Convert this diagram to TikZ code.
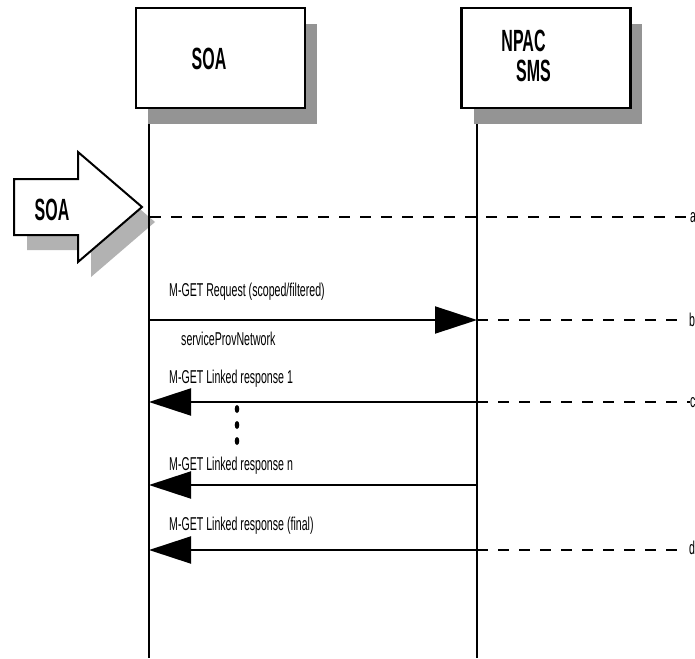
\documentclass[tikz,border=0pt]{standalone}
\usepackage{fontspec}
\setmainfont{Liberation Sans}[FakeStretch=0.57]
\newfontfamily\titlefont{Liberation Sans}[FakeStretch=0.52]
\usetikzlibrary{arrows.meta}
\begin{document}
\begin{tikzpicture}[x=1pt,y=-1pt,
  box/.style={draw, line width=2.5pt, fill=white, minimum width=169pt, minimum height=100pt, inner sep=0pt},
  boxshadow/.style={fill=black!42},
  arrshadow/.style={fill=black!30},
  bigarrow/.style={draw, line width=2pt, fill=white, line join=miter},
  title/.style={font=\titlefont\bfseries\fontsize{30.7}{30.7}\selectfont, inner sep=0pt, anchor=base},
  msgtext/.style={font=\fontsize{18.6}{18.6}\selectfont, inner sep=0pt, anchor=base west},
  endlabel/.style={font=\fontsize{18.6}{18.6}\selectfont, inner sep=0pt, anchor=base west},
  lifeline/.style={line width=2pt},
  msg/.style={line width=2pt, -{Triangle[length=42pt,width=27pt]}},
  ext/.style={line width=2.5pt, dash pattern=on 11pt off 10pt}
]
\useasboundingbox (0,0) rectangle (695,658);
\fill[white] (0,0) rectangle (695,658);

% header boxes with shadows
\fill[boxshadow] (148,24) rectangle (317,124);
\fill[boxshadow] (474,24) rectangle (642,124);
\node[box] (soa) at (220.5,58) {};
\node[box] (npac) at (546,58) {};
\node[title] (soaT) at (209,70) {SOA};
\node[title] (npacT1) at (523.5,52) {NPAC};
\node[title] (npacT2) at (533.5,82) {SMS};

% big SOA arrow
\fill[arrshadow] (27,194) -- (91,194) -- (91,167) -- (155,222) -- (91,277) -- (91,250) -- (27,250) -- cycle;
\draw[bigarrow] (14,179) -- (78,179) -- (78,152) -- (142,207) -- (78,262) -- (78,235) -- (14,235) -- cycle;
\node[title] (soaArrT) at (52,220) {SOA};

% lifelines
\coordinate (soaTop) at (149,124);
\coordinate (soaBot) at (149,658);
\coordinate (npacTop) at (477,124);
\coordinate (npacBot) at (477,658);
\draw[lifeline] (soaTop) -- (soaBot);
\draw[lifeline] (npacTop) -- (npacBot);

% end labels
\node[endlabel] (la) at (690,222) {a};
\node[endlabel] (lb) at (689,326) {b};
\node[endlabel] (lc) at (690,407) {c};
\node[endlabel] (ld) at (689,554) {d};

% a
\coordinate (sA) at (150,217);
\draw[ext] (sA) -- (sA -| la.west);

% request
\coordinate (s1) at (149,320);
\coordinate (n1) at (477,320);
\node[msgtext] (t1) at (169,296) {M-GET Request (scoped/filtered)};
\node[msgtext] (t1b) at (181,345) {serviceProvNetwork};
\draw[msg] (s1) -- (n1);
\draw[ext] (n1) -- ([xshift=-8pt]n1 -| lb.west);

% linked response 1
\coordinate (s2) at (149,402);
\coordinate (n2) at (477,402);
\node[msgtext] (t2) at (169,383) {M-GET Linked response 1};
\draw[msg] (n2) -- (s2);
\draw[ext] (n2) -- (n2 -| lc.west);

% dots
\fill (237,409) ellipse (2.3 and 4);
\fill (237,425) ellipse (2.3 and 4);
\fill (237,441) ellipse (2.3 and 4);

% linked response n
\coordinate (s3) at (149,485);
\coordinate (n3) at (477,485);
\node[msgtext] (t3) at (169,470) {M-GET Linked response n};
\draw[msg] (n3) -- (s3);

% linked response final
\coordinate (s4) at (149,550);
\coordinate (n4) at (477,550);
\node[msgtext] (t4) at (169,530) {M-GET Linked response (final)};
\draw[msg] (n4) -- (s4);
\draw[ext] (n4) -- ([xshift=-8pt]n4 -| ld.west);
\end{tikzpicture}
\end{document}
